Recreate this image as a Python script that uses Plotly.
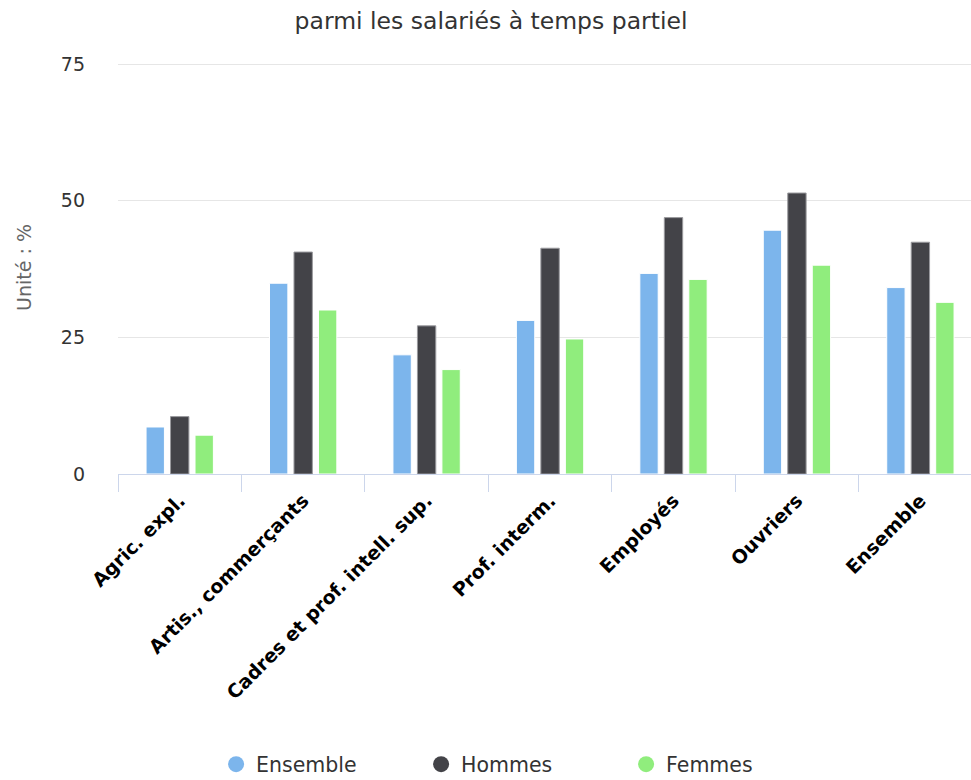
import plotly.graph_objects as go

categories = ["Agric. expl.", "Artis., commerçants", "Cadres et prof. intell. sup.",
              "Prof. interm.", "Employés", "Ouvriers", "Ensemble"]
ensemble = [8.6, 34.9, 21.8, 28.1, 36.7, 44.6, 34.1]
hommes = [10.5, 40.6, 27.1, 41.3, 46.9, 51.4, 42.4]
femmes = [7.1, 30.0, 19.1, 24.7, 35.6, 38.2, 31.4]
series_names = ["Ensemble", "Hommes", "Femmes"]
colors = ["#7cb5ec", "#434348", "#90ed7d"]
line_colors = ["#ffffff", "#9a9a9e", "#ffffff"]
y_ticks = [0, 25, 50, 75]

FONT = "DejaVu Sans"

fig = go.Figure()
for name, vals, col, lc in zip(series_names, [ensemble, hommes, femmes], colors, line_colors):
    fig.add_trace(go.Bar(
        x=categories, y=vals, name=name, showlegend=False,
        marker=dict(color=col, line=dict(color=lc, width=1)),
    ))
for name, col in zip(series_names, colors):
    fig.add_trace(go.Scatter(
        x=[None], y=[None], mode="markers", name=name,
        marker=dict(symbol="circle", size=19, color=col),
    ))

fig.update_layout(
    width=971, height=780,
    margin=dict(l=118, r=0, t=61, b=306, autoexpand=False),
    paper_bgcolor="white", plot_bgcolor="white",
    font=dict(family=FONT, color="#333333"),
    title=dict(text="parmi les salariés à temps partiel", x=0.5057, xanchor="center",
               y=0.974, yanchor="middle", font=dict(size=23.5, color="#333333", family=FONT)),
    barmode="group", bargap=0.405, bargroupgap=0.25,
    legend=dict(orientation="h", x=0.115, xanchor="left", y=-0.703, yanchor="middle",
                entrywidth=160, entrywidthmode="pixels", tracegroupgap=0,
                font=dict(size=20.5, color="#333333", family=FONT), itemsizing="trace"),
    xaxis=dict(
        range=[-0.5, 6.41], showline=True, linecolor="#ccd6eb", linewidth=1,
        ticks="outside", tickson="boundaries", ticklen=17, tickcolor="#ccd6eb",
        tickangle=-45, showgrid=False, automargin=False, ticklabelstandoff=7,
        tickfont=dict(family=FONT, size=19, color="#000000", weight="bold"),
    ),
    yaxis=dict(
        range=[0, 75.55], tickvals=y_ticks, showgrid=True, gridcolor="#e6e6e6",
        zeroline=False, showline=False, ticks="", ticklabelstandoff=32, automargin=False,
        tickfont=dict(family=FONT, size=19, color="#333333"),
        title=dict(text="Unité : %", font=dict(family=FONT, size=19, color="#666666"), standoff=24),
    ),
)

fig.write_html("out.html", config={"displayModeBar": False},
               post_script="document.body.style.margin='0';document.body.style.overflow='hidden';")
